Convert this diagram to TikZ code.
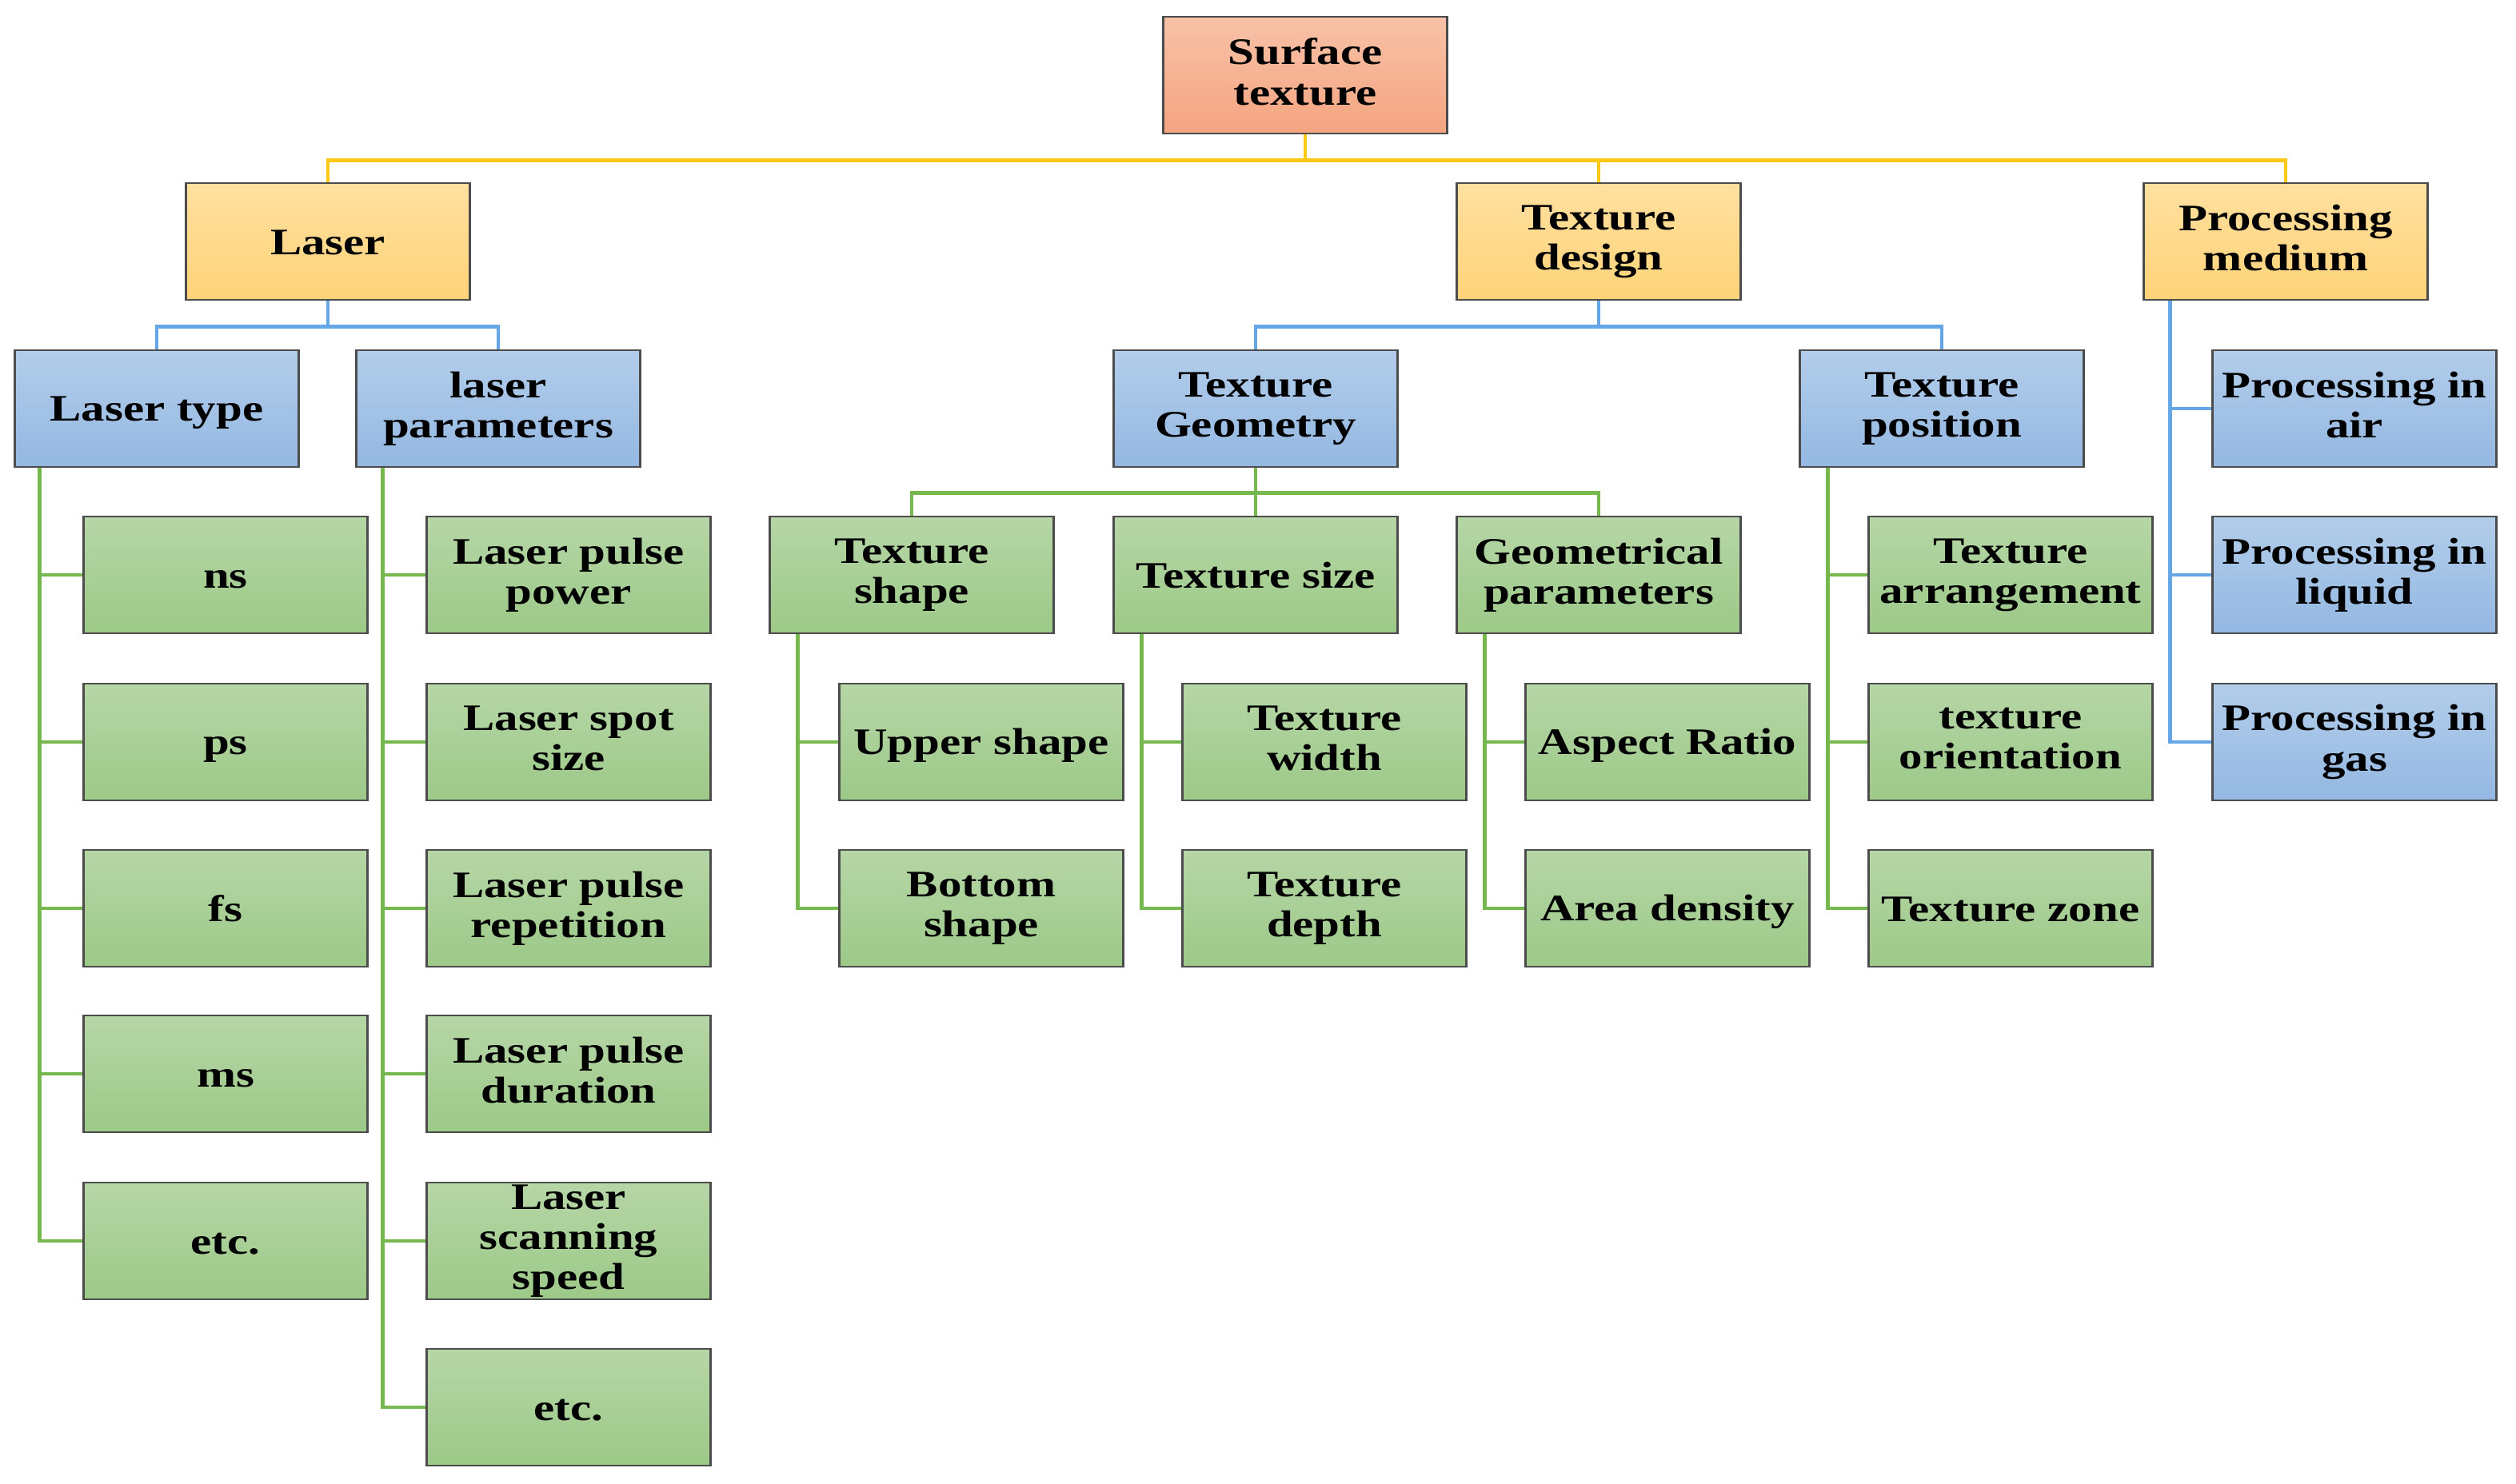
\documentclass[tikz,border=0pt]{standalone}
\usepackage{fontspec}
\setmainfont[FakeStretch=1.26]{Liberation Serif}
\usetikzlibrary{positioning}

\definecolor{linkyellow}{RGB}{255,200,20}
\definecolor{linkblue}{RGB}{100,166,230}
\definecolor{linkgreen}{RGB}{118,184,78}

\newcommand{\boxstrut}{\rule[-2.6pt]{0pt}{14.3pt}}

\begin{document}
\begin{tikzpicture}[
    box/.style={rectangle, draw=black!70, line width=0.6pt, minimum width=3.55cm, minimum height=1.464cm,
                inner sep=0pt, align=center, font=\fontsize{13.3}{14.3}\selectfont\bfseries,
                execute at begin node=\boxstrut, execute at end node=\boxstrut},
    rootbox/.style={box, top color={rgb,255:red,248;green,194;blue,168}, bottom color={rgb,255:red,244;green,164;blue,128}},
    mainbox/.style={box, top color={rgb,255:red,255;green,224;blue,160}, bottom color={rgb,255:red,255;green,211;blue,120}},
    subbox/.style={box, top color={rgb,255:red,178;green,205;blue,234}, bottom color={rgb,255:red,148;green,184;blue,226}},
    leafbox/.style={box, top color={rgb,255:red,182;green,214;blue,166}, bottom color={rgb,255:red,156;green,201;blue,136}},
    yline/.style={draw=linkyellow, line width=1.4pt},
    bline/.style={draw=linkblue, line width=1.4pt},
    gline/.style={draw=linkgreen, line width=1.4pt}
]
    \useasboundingbox (0,0) rectangle (31.46,-18.55);

    % --- Root ---
    \node[rootbox] (surf) at (16.32, -0.94) {Surface\\texture};

    % --- Main branches ---
    \node[mainbox] (laser) at (4.10, -3.02) {Laser};
    \node[mainbox] (tdesign) at (19.99, -3.02) {Texture\\design};
    \node[mainbox] (pmedium) at (28.58, -3.02) {Processing\\medium};

    \draw[yline] (surf.south) -- ++(0,-0.32) -| (laser.north);
    \draw[yline] (surf.south) -- ++(0,-0.32) -| (tdesign.north);
    \draw[yline] (surf.south) -- ++(0,-0.32) -| (pmedium.north);

    % --- Laser ---
    \node[subbox] (ltype) at (1.96, -5.11) {Laser type};
    \node[subbox] (lparam) at (6.23, -5.11) {laser\\parameters};

    \draw[bline] (laser.south) -- ++(0,-0.32) -| (ltype.north);
    \draw[bline] (laser.south) -- ++(0,-0.32) -| (lparam.north);

    % Laser type
    \node[leafbox] (ns) at (2.82, -7.19) {ns};
    \node[leafbox] (ps) at (2.82, -9.28) {ps};
    \node[leafbox] (fs) at (2.82, -11.36) {fs};
    \node[leafbox] (ms) at (2.82, -13.43) {ms};
    \node[leafbox] (ltetc) at (2.82, -15.52) {etc.};

    \draw[gline] ([xshift=0.32cm]ltype.south west) |- (ns.west);
    \draw[gline] ([xshift=0.32cm]ltype.south west) |- (ps.west);
    \draw[gline] ([xshift=0.32cm]ltype.south west) |- (fs.west);
    \draw[gline] ([xshift=0.32cm]ltype.south west) |- (ms.west);
    \draw[gline] ([xshift=0.32cm]ltype.south west) |- (ltetc.west);

    % Laser parameters
    \node[leafbox] (lpower) at (7.11, -7.19) {Laser pulse\\power};
    \node[leafbox] (lspot) at (7.11, -9.28) {Laser spot\\size};
    \node[leafbox] (lrep) at (7.11, -11.36) {Laser pulse\\repetition};
    \node[leafbox] (ldur) at (7.11, -13.43) {Laser pulse\\duration};
    \node[leafbox] (lscan) at (7.11, -15.52) {Laser\\scanning\\speed};
    \node[leafbox] (lpetc) at (7.11, -17.60) {etc.};

    \draw[gline] ([xshift=0.34cm]lparam.south west) |- (lpower.west);
    \draw[gline] ([xshift=0.34cm]lparam.south west) |- (lspot.west);
    \draw[gline] ([xshift=0.34cm]lparam.south west) |- (lrep.west);
    \draw[gline] ([xshift=0.34cm]lparam.south west) |- (ldur.west);
    \draw[gline] ([xshift=0.34cm]lparam.south west) |- (lscan.west);
    \draw[gline] ([xshift=0.34cm]lparam.south west) |- (lpetc.west);

    % --- Texture design ---
    \node[subbox] (tgeom) at (15.70, -5.11) {Texture\\Geometry};
    \node[subbox] (tpos) at (24.28, -5.11) {Texture\\position};

    \draw[bline] (tdesign.south) -- ++(0,-0.32) -| (tgeom.north);
    \draw[bline] (tdesign.south) -- ++(0,-0.32) -| (tpos.north);

    % Texture geometry
    \node[leafbox] (tshape) at (11.40, -7.19) {Texture\\shape};
    \node[leafbox] (tsize) at (15.70, -7.19) {Texture size};
    \node[leafbox] (gparam) at (19.99, -7.19) {Geometrical\\parameters};

    \draw[gline] (tgeom.south) -- ++(0,-0.31) -| (tshape.north);
    \draw[gline] (tgeom.south) -- (tsize.north);
    \draw[gline] (tgeom.south) -- ++(0,-0.31) -| (gparam.north);

    \node[leafbox] (upper) at (12.27, -9.28) {Upper shape};
    \node[leafbox] (bottom) at (12.27, -11.36) {Bottom\\shape};
    \node[leafbox] (twidth) at (16.56, -9.28) {Texture\\width};
    \node[leafbox] (tdepth) at (16.56, -11.36) {Texture\\depth};
    \node[leafbox] (aspect) at (20.85, -9.28) {Aspect Ratio};
    \node[leafbox] (area) at (20.85, -11.36) {Area density};

    \draw[gline] ([xshift=0.36cm]tshape.south west) |- (upper.west);
    \draw[gline] ([xshift=0.36cm]tshape.south west) |- (bottom.west);
    \draw[gline] ([xshift=0.36cm]tsize.south west) |- (twidth.west);
    \draw[gline] ([xshift=0.36cm]tsize.south west) |- (tdepth.west);
    \draw[gline] ([xshift=0.36cm]gparam.south west) |- (aspect.west);
    \draw[gline] ([xshift=0.36cm]gparam.south west) |- (area.west);

    % Texture position
    \node[leafbox] (tarr) at (25.14, -7.19) {Texture\\arrangement};
    \node[leafbox] (torient) at (25.14, -9.28) {texture\\orientation};
    \node[leafbox] (tzone) at (25.14, -11.36) {Texture zone};

    \draw[gline] ([xshift=0.36cm]tpos.south west) |- (tarr.west);
    \draw[gline] ([xshift=0.36cm]tpos.south west) |- (torient.west);
    \draw[gline] ([xshift=0.36cm]tpos.south west) |- (tzone.west);

    % --- Processing medium ---
    \node[subbox] (pair) at (29.44, -5.11) {Processing in\\air};
    \node[subbox] (pliquid) at (29.44, -7.19) {Processing in\\liquid};
    \node[subbox] (pgas) at (29.44, -9.28) {Processing in\\gas};

    \draw[bline] ([xshift=0.34cm]pmedium.south west) |- (pair.west);
    \draw[bline] ([xshift=0.34cm]pmedium.south west) |- (pliquid.west);
    \draw[bline] ([xshift=0.34cm]pmedium.south west) |- (pgas.west);

\end{tikzpicture}
\end{document}
